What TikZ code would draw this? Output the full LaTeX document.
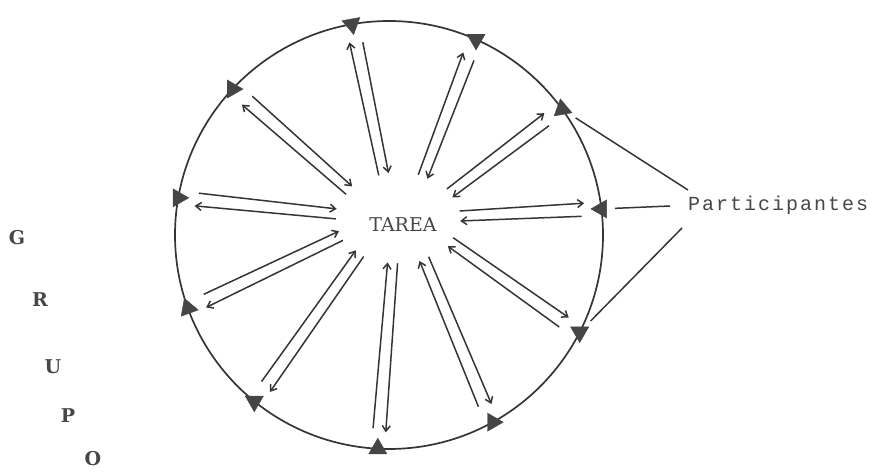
\documentclass[tikz,border=0pt]{standalone}
\usepackage{fontspec}
\newfontfamily\typefont[LetterSpace=10]{Liberation Mono}
\newfontfamily\slabfont{DejaVu Serif}
\usepackage{tikz}
\usetikzlibrary{arrows.meta,calc,shapes.geometric}
\definecolor{linec}{HTML}{353535}
\definecolor{textc}{HTML}{474747}
\definecolor{markc}{HTML}{454545}
\tikzset{
  >={Straight Barb[length=5.5pt,width=8pt]},
  ring/.style={draw=linec,line width=1.7pt},
  flow/.style={->,draw=linec,line width=1.5pt},
  part/.style={regular polygon,regular polygon sides=3,fill=markc,draw=markc,minimum size=21pt,inner sep=0pt},
  pline/.style={draw=linec,line width=1.5pt,shorten <=8pt},
  letter/.style={font=\slabfont\fontsize{19}{19}\selectfont\bfseries,text=textc,inner sep=0pt},
}
\begin{document}
\begin{tikzpicture}[x=1pt,y=1pt]
  \useasboundingbox (0,0) rectangle (875,471);
  \coordinate (O) at (389,236);
  \coordinate (hub) at (398,253);
  \draw[ring] (O) circle[radius=214];
  % participantes sobre el circulo
  \foreach \i/\a/\r in {1/7/90,2/36/10,3/66/180,4/100/190,5/137/30,6/170/-90,7/200/-100,8/231/-60,9/267/0,10/299/-90,11/333/180}
    \node[part,rotate=\r] (p\i) at ($(O)+(\a:214)$) {};
  \node[font=\slabfont\fontsize{19}{19}\selectfont,text=textc] (tarea) at (403,246) {TAREA};
  % flechas de ida y vuelta
  \foreach \i in {1,...,11} {
    \draw[flow] let \p1=($(p\i)-(hub)$), \n1={atan2(\y1,\x1)} in
      ($(hub)+({62*cos(\n1)},{45*sin(\n1)})+(\n1+90:5)$) -- ($(p\i)!17pt!(hub)+(\n1+90:6.5)$);
    \draw[flow] let \p1=($(p\i)-(hub)$), \n1={atan2(\y1,\x1)} in
      ($(p\i)!20pt!(hub)+(\n1-90:6.5)$) -- ($(hub)+({62*cos(\n1)},{45*sin(\n1)})+(\n1-90:5)$);
  }
  \node[font=\typefont\fontsize{20}{20}\selectfont,text=textc,anchor=west,inner sep=0pt] (lbl) at (688,266) {Participantes};
  \coordinate (l1) at ([shift={(0,15)}]lbl.west);
  \coordinate (l2) at ([shift={(-18,-1)}]lbl.west);
  \coordinate (l3) at ([shift={(-6,-23)}]lbl.west);
  \draw[pline] (p2) -- (l1);
  \draw[pline] (p1) -- (l2);
  \draw[pline] (p11) -- (l3);
  % GRUPO
  \node[letter] (g1) at (17,233) {G};
  \node[letter] (g2) at (40,171) {R};
  \node[letter] (g3) at (53,104) {U};
  \node[letter] (g4) at (68,55) {P};
  \node[letter] (g5) at (93,12) {O};
\end{tikzpicture}
\end{document}
